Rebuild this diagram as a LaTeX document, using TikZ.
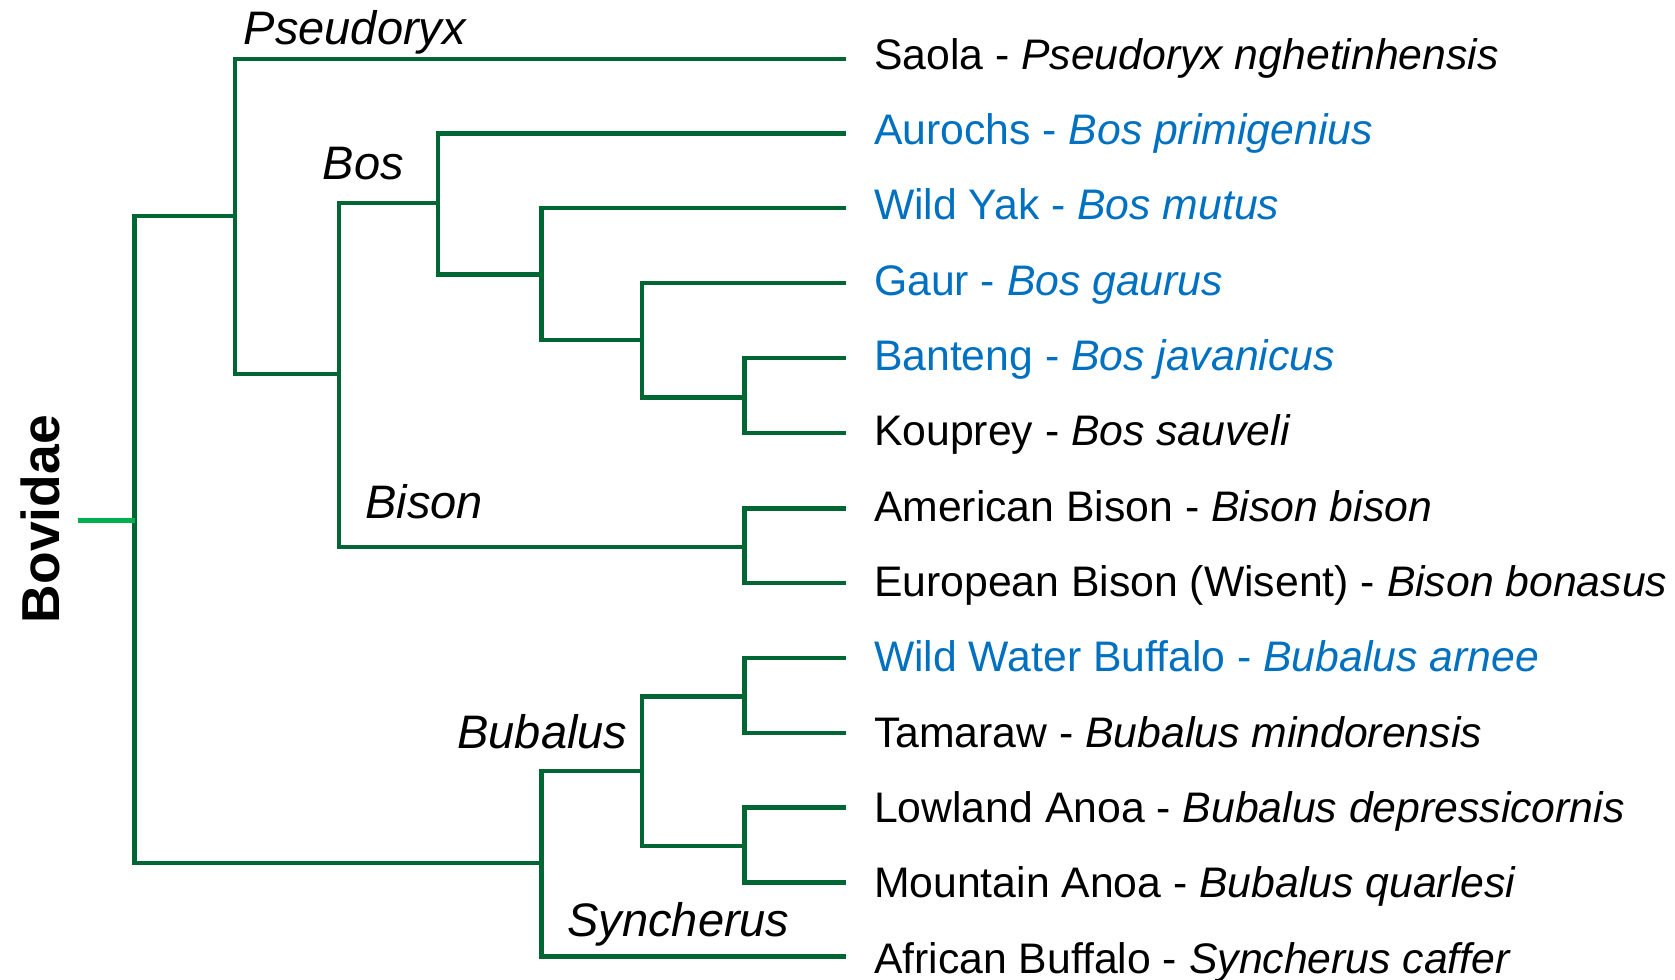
\documentclass[tikz,border=0pt]{standalone}
\usepackage{fontspec}
\setmainfont{Liberation Sans}
\definecolor{treegreen}{HTML}{006633}
\definecolor{stubgreen}{HTML}{00B050}
\definecolor{spblue}{HTML}{0070C0}
\begin{document}
\begin{tikzpicture}[x=1pt,y=-1pt,
  branch/.style={draw=treegreen,line width=4pt,line cap=rect,line join=miter},
  stub/.style={draw=stubgreen,line width=4.6pt},
  leaf/.style={anchor=base west,inner sep=0pt,font=\fontsize{40}{48}\selectfont},
  genus/.style={anchor=base west,inner sep=0pt,font=\fontsize{44}{52}\selectfont\itshape},
  blueleaf/.style={leaf,text=spblue}]
\useasboundingbox (0,0) rectangle (1568,917);
% leaves (text)
\node[leaf] (saola) at (818,64.6) {Saola - \textit{Pseudoryx nghetinhensis}};
\node[blueleaf] (aurochs) at (818,135.1) {Aurochs - \textit{Bos primigenius}};
\node[blueleaf] (yak) at (818,205.7) {Wild Yak - \textit{Bos mutus}};
\node[blueleaf] (gaur) at (818,276.2) {Gaur - \textit{Bos gaurus}};
\node[blueleaf] (banteng) at (818,346.7) {Banteng - \textit{Bos javanicus}};
\node[leaf] (kouprey) at (818,417.3) {Kouprey - \textit{Bos sauveli}};
\node[leaf] (ambison) at (818,487.8) {American Bison - \textit{Bison bison}};
\node[leaf] (eubison) at (818,558.3) {European Bison (Wisent) - \textit{Bison bonasus}};
\node[blueleaf] (wwb) at (818,628.8) {Wild Water Buffalo - \textit{Bubalus arnee}};
\node[leaf] (tamaraw) at (818,699.4) {Tamaraw - \textit{Bubalus mindorensis}};
\node[leaf] (lowanoa) at (818,769.9) {Lowland Anoa - \textit{Bubalus depressicornis}};
\node[leaf] (mtanoa) at (818,840.4) {Mountain Anoa - \textit{Bubalus quarlesi}};
\node[leaf] (afbuff) at (818,911) {African Buffalo - \textit{Syncherus caffer}};
% leaf line ends
\coordinate (lsaola) at (790,55);
\coordinate (laurochs) at (790,125);
\coordinate (lyak) at (790,195);
\coordinate (lgaur) at (790,265);
\coordinate (lbanteng) at (790,335);
\coordinate (lkouprey) at (790,405);
\coordinate (lambison) at (790,476);
\coordinate (leubison) at (790,546);
\coordinate (lwwb) at (790,616);
\coordinate (ltamaraw) at (790,686);
\coordinate (llowanoa) at (790,756);
\coordinate (lmtanoa) at (790,826);
\coordinate (lafbuff) at (790,895.5);
% genus labels
\node[genus] (gpseud) at (228,42) {Pseudoryx};
\node[genus] (gbos) at (302,168) {Bos};
\node[genus] (gbison) at (342,485) {Bison};
\node[genus] (gbub) at (428,701) {Bubalus};
\node[genus] (gsync) at (531,877) {Syncherus};
% family label
\node[rotate=90,inner sep=0pt,font=\fontsize{50}{60}\selectfont\bfseries] (fam) at (38,486) {Bovidae};
% internal nodes
\coordinate (rs) at (73,487);
\coordinate (R) at (126,487);
\coordinate (A) at (220,202);
\coordinate (B) at (317,350);
\coordinate (C) at (410,190);
\coordinate (E) at (507,257);
\coordinate (F) at (601,318);
\coordinate (G) at (697,372);
\coordinate (D) at (697,512);
\coordinate (H) at (507,808);
\coordinate (I) at (601,722);
\coordinate (J) at (697,652);
\coordinate (K) at (697,792);
% branches
\draw[branch] (R) |- (A);
\draw[branch] (R) |- (H);
\draw[branch] (A) |- (lsaola);
\draw[branch] (A) |- (B);
\draw[branch] (B) |- (C);
\draw[branch] (B) |- (D);
\draw[branch] (C) |- (laurochs);
\draw[branch] (C) |- (E);
\draw[branch] (E) |- (lyak);
\draw[branch] (E) |- (F);
\draw[branch] (F) |- (lgaur);
\draw[branch] (F) |- (G);
\draw[branch] (G) |- (lbanteng);
\draw[branch] (G) |- (lkouprey);
\draw[branch] (D) |- (lambison);
\draw[branch] (D) |- (leubison);
\draw[branch] (H) |- (I);
\draw[branch] (H) |- (lafbuff);
\draw[branch] (I) |- (J);
\draw[branch] (I) |- (K);
\draw[branch] (J) |- (lwwb);
\draw[branch] (J) |- (ltamaraw);
\draw[branch] (K) |- (llowanoa);
\draw[branch] (K) |- (lmtanoa);
\draw[stub] (rs) -- (R);
\end{tikzpicture}
\end{document}
